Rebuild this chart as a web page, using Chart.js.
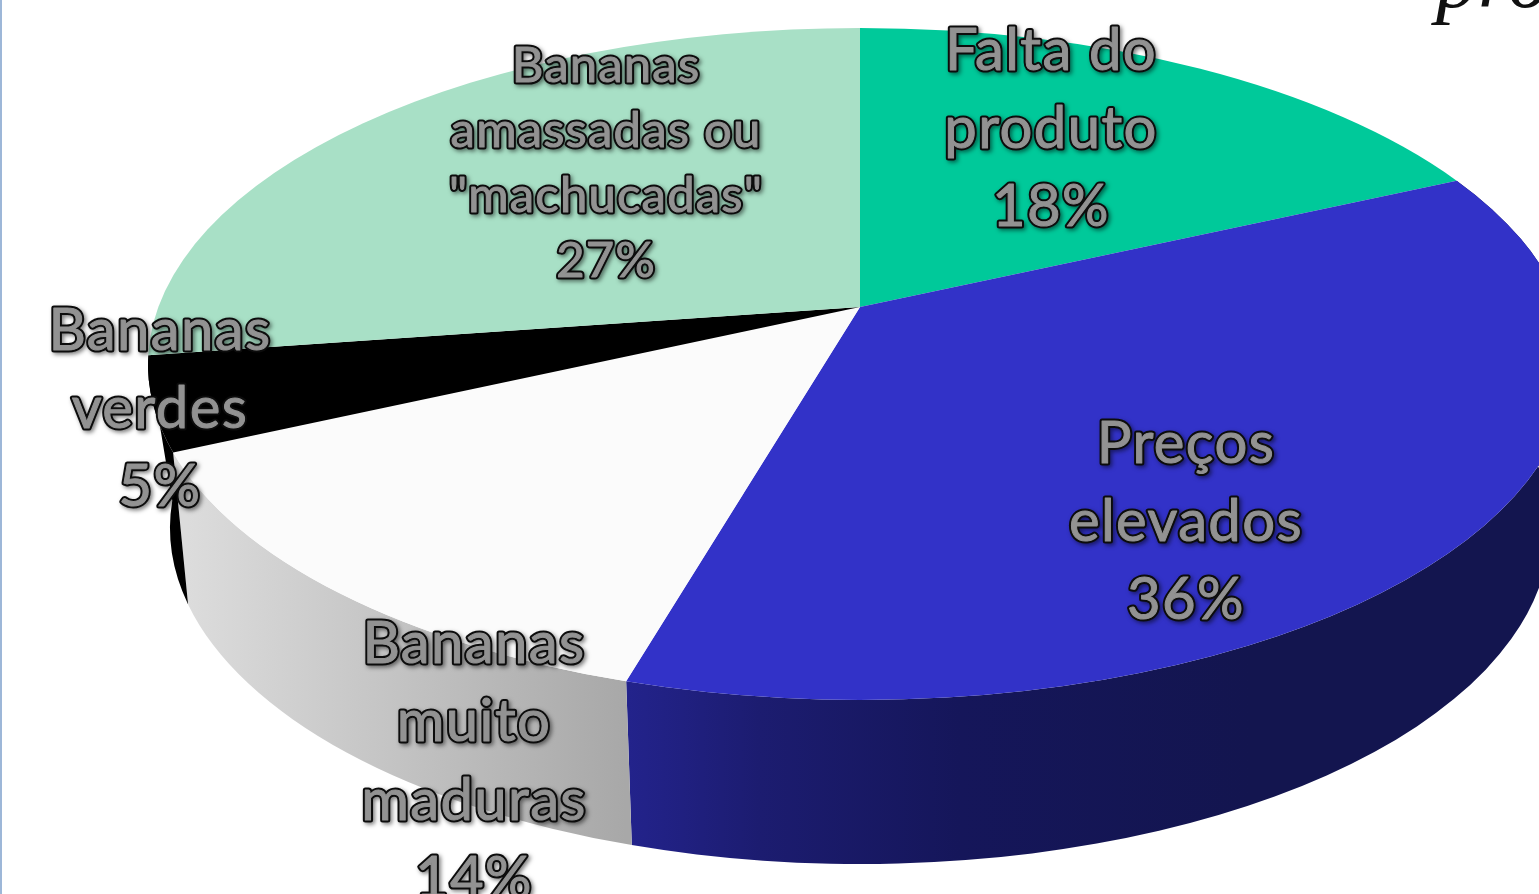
<!DOCTYPE html>
<html>
<head>
<meta charset="utf-8">
<title>Bananas</title>
<script src="https://cdn.jsdelivr.net/npm/chart.js@4"></script>
<style>
  html, body { margin: 0; padding: 0; background: #fff; overflow: hidden; }
  #wrap { position: relative; width: 1539px; height: 894px; overflow: hidden; }
  #wrap::before { content: ''; position: absolute; left: 0; top: 0; bottom: 0; width: 1.5px; background: #9db7d8; z-index: 2; }
  #corner { position: absolute; left: 1436px; top: -69px; font: italic 84px "Liberation Serif", serif; color: #111; line-height: 96px; }
</style>
</head>
<body>
<div id="wrap">
  <canvas id="myChart" width="1539" height="894"></canvas>
  <div id="corner">pro</div>
</div>
<script>
const categories = [
  ['Falta do', 'produto'],
  ['Preços', 'elevados'],
  ['Bananas', 'muito', 'maduras'],
  ['Bananas', 'verdes'],
  ['Bananas', 'amassadas ou', '"machucadas"'],
];
// Share of answers, the labels show them rounded.
const shares = [18.2, 36.3, 13.7, 4.5, 27.3];
const topColors = ['#00c99a', '#3232c8', '#fbfbfb', '#000000', '#a8e0c6'];

// The tilted disc: outline of the top face and of the bottom face, both ellipses.
const topFace = { x: 860, y: 364, rx: 712, ry: 336 };
const bottomFace = { x: 860, y: 528, rx: 690, ry: 336 };
// Perspective of the disc centre, it sits above the middle of the ellipse.
const persp = { c: -0.1696, a: 274.3, b: 307, A: 701.7 };

// Colour stops of the side walls, only the slices facing us have a wall.
const wallStops = [
  null,
  [[625, '#23238c'], [760, '#1c1c70'], [960, '#15165a'], [1250, '#13154f'], [1539, '#13154f']],
  [[188, '#dcdcdc'], [625, '#a8a8a8']],
  [[0, '#000000'], [1539, '#000000']],
  null,
];

// Where each label block goes, first line centre, line spacing and font size.
const labelPlaces = [
  { x: 1051, y: 51, step: 78, size: 58 },
  { x: 1186, y: 444, step: 78, size: 58 },
  { x: 474, y: 644, step: 78.5, size: 58 },
  { x: 160, y: 331, step: 78, size: 58 },
  { x: 606, y: 66, step: 65, size: 49 },
];

const project = (angle) => {
  const u = Math.sin(angle + Math.PI / 2);
  const v = -Math.cos(angle + Math.PI / 2);
  const d = 1 + persp.c * v;
  return { x: topFace.x + (persp.A * u) / d, y: (persp.a * v + persp.b) / d };
};

// Turn a slice angle into the parameter of the top ellipse.
const rimParam = (angle) => {
  const p = project(angle);
  return Math.atan2((p.y - topFace.y) / topFace.ry, (p.x - topFace.x) / topFace.rx);
};

// The bottom rim slips a little towards the back at the sides.
const bottomParam = (t) => {
  const off = (t - Math.PI / 2) / 1.305;
  return t + 0.037 * off * off;
};

// Slices are drawn as perspective wedges instead of flat circle sectors.
Chart.ArcElement.prototype.draw = function (ctx) {
  ctx.save();
  ctx.beginPath();
  ctx.moveTo(topFace.x, persp.b);
  ctx.ellipse(topFace.x, topFace.y, topFace.rx, topFace.ry, 0, rimParam(this.startAngle), rimParam(this.endAngle), false);
  ctx.closePath();
  ctx.fillStyle = this.options.backgroundColor;
  ctx.fill();
  ctx.restore();
};

const wallsPlugin = {
  id: 'walls',
  beforeDatasetsDraw(chart) {
    const { ctx } = chart;
    const arcs = chart.getDatasetMeta(0).data;
    arcs.forEach((arc, i) => {
      if (!wallStops[i]) return;
      let t0 = rimParam(arc.startAngle);
      let t1 = rimParam(arc.endAngle);
      if (t1 < t0) t1 += Math.PI * 2;

      const grad = ctx.createLinearGradient(0, 0, 1539, 0);
      for (const stop of wallStops[i]) {
        grad.addColorStop(stop[0] / 1539, stop[1]);
      }
      ctx.save();
      ctx.beginPath();
      ctx.ellipse(topFace.x, topFace.y, topFace.rx, topFace.ry, 0, t0, t1, false);
      ctx.ellipse(bottomFace.x, bottomFace.y, bottomFace.rx, bottomFace.ry, 0, bottomParam(t1), bottomParam(t0), true);
      ctx.closePath();
      ctx.fillStyle = grad;
      ctx.fill();
      ctx.restore();
    });
  },
};

const labelsPlugin = {
  id: 'sliceLabels',
  afterDatasetsDraw(chart) {
    const { ctx } = chart;
    ctx.save();
    ctx.textAlign = 'center';
    ctx.textBaseline = 'middle';
    ctx.lineJoin = 'round';
    categories.forEach((lines, i) => {
      const place = labelPlaces[i];
      const rows = [...lines, Math.round(shares[i]) + '%'];
      ctx.font = `${place.size}px Lato, "Open Sans", sans-serif`;
      ctx.letterSpacing = place.size > 50 ? '1.4px' : '1.2px';
      rows.forEach((row, r) => {
        const y = place.y + r * place.step;
        ctx.shadowColor = 'rgba(0,0,0,0.5)';
        ctx.shadowBlur = 4;
        ctx.shadowOffsetX = 2;
        ctx.shadowOffsetY = 2;
        ctx.strokeStyle = '#0c0c0c';
        ctx.lineWidth = 5;
        ctx.strokeText(row, place.x, y);
        // Letter faces are a bit fatter than the plain font.
        ctx.shadowColor = 'transparent';
        ctx.strokeStyle = '#929292';
        ctx.lineWidth = 1;
        ctx.strokeText(row, place.x, y);
        ctx.fillStyle = '#929292';
        ctx.fillText(row, place.x, y);
      });
    });
    ctx.restore();
  },
};

const myChart = new Chart(document.getElementById('myChart'), {
  type: 'pie',
  data: {
    labels: categories.map((c) => c.join(' ')),
    datasets: [
      {
        data: shares,
        backgroundColor: topColors,
        borderWidth: 0,
        clip: false,
      },
    ],
  },
  options: {
    responsive: false,
    animation: false,
    plugins: {
      legend: { display: false },
      tooltip: { enabled: false },
    },
  },
  plugins: [wallsPlugin, labelsPlugin],
});
</script>
</body>
</html>
